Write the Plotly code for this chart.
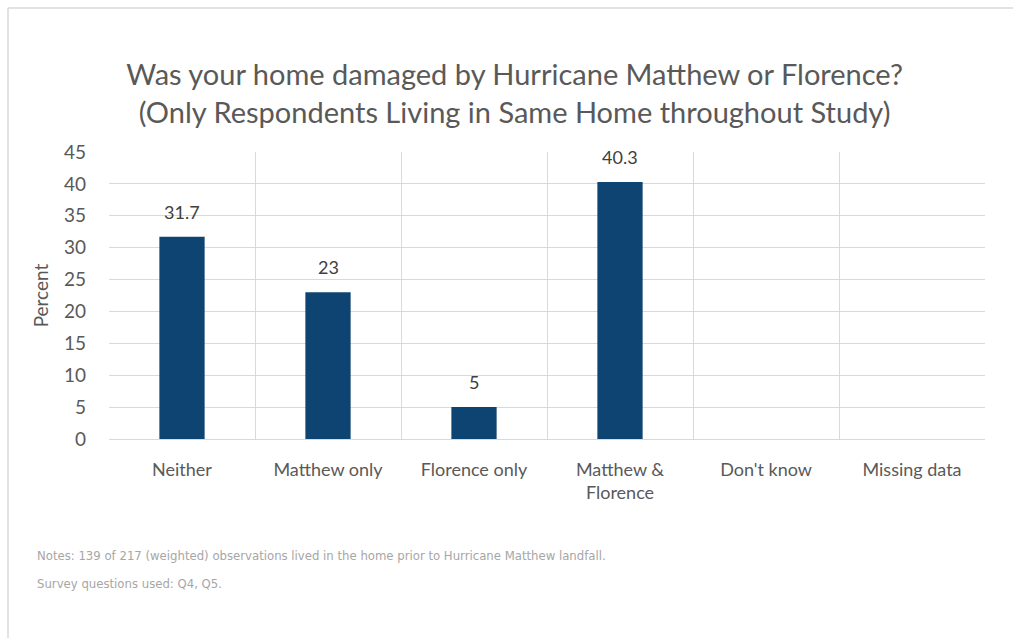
import plotly.graph_objects as go

categories = ["Neither", "Matthew only", "Florence only", "Matthew &<br>Florence", "Don't know", "Missing data"]
percent = [31.7, 23, 5, 40.3, None, None]
labels = ["31.7", "23", "5", "40.3", "", ""]
y_ticks = [0, 5, 10, 15, 20, 25, 30, 35, 40, 45]
notes = ["Notes: 139 of 217 (weighted) observations lived in the home prior to Hurricane Matthew landfall.",
         "Survey questions used: Q4, Q5."]

NOTE_FONT = "'DejaVu Sans Condensed', 'Liberation Sans Narrow', Lato, sans-serif"
MAIN = "Lato, 'Open Sans', sans-serif"

fig = go.Figure(go.Bar(
    x=categories, y=percent,
    marker=dict(color="#0D4471", line=dict(width=0)),
    width=0.31,
))

ann = []
for c, v, t in zip(categories, percent, labels):
    if v is not None:
        ann.append(dict(x=c, y=v, text=t, showarrow=False, yanchor="bottom", yshift=12,
                        font=dict(size=18, color="#404040", family=MAIN)))

for i, line in enumerate(notes):
    ann.append(dict(text=line, xref="paper", yref="paper", x=-0.0845, y=-0.405 - i * 0.0976,
                    xanchor="left", yanchor="middle", align="left", showarrow=False,
                    font=dict(size=13, color="#A6A6A6", family=NOTE_FONT)))

fig.update_layout(
    width=1013, height=638,
    margin=dict(l=109, r=28, t=152, b=199),
    paper_bgcolor="white", plot_bgcolor="white",
    showlegend=False,
    font=dict(family=MAIN, color="#595959"),
    title=dict(
        text="Was your home damaged by Hurricane Matthew or Florence?<br>(Only Respondents Living in Same Home throughout Study)",
        x=0.508, xanchor="center", y=0.866, yanchor="middle",
        font=dict(size=29, color="#595959", family=MAIN),
    ),
    xaxis=dict(
        type="category", tickson="boundaries", showgrid=True, gridcolor="#D9D9D9", gridwidth=1,
        ticks="", showline=True, linecolor="#D9D9D9", mirror=False,
        tickfont=dict(size=18, color="#595959", family=MAIN),
        ticklabelstandoff=14,
        range=[-0.5, 5.5],
    ),
    yaxis=dict(
        range=[0, 45], tickvals=y_ticks, showgrid=True, gridcolor="#D9D9D9", gridwidth=1,
        zeroline=False, showline=False, ticks="",
        tickfont=dict(size=19, color="#595959", family=MAIN),
        ticklabelstandoff=22,
        title=dict(text="Percent", font=dict(size=19, color="#595959", family=MAIN), standoff=10),
    ),
    shapes=[
        dict(type="line", xref="paper", yref="paper", x0=-0.1153, x1=-0.1153, y0=-0.7, y1=1.5017,
             line=dict(color="#D9D9D9", width=1.5)),
        dict(type="line", xref="paper", yref="paper", x0=-0.1153, x1=1.04, y0=1.5017, y1=1.5017,
             line=dict(color="#D9D9D9", width=1.5)),
    ],
    annotations=ann,
)

fig.write_html("out.html")
